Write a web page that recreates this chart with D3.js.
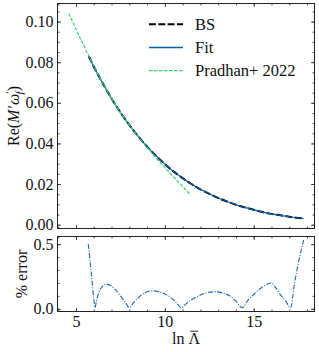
<!DOCTYPE html>
<html><head><meta charset="utf-8">
<script src="https://cdn.jsdelivr.net/npm/d3@7"></script>
<style>
body{margin:0;background:#fff}
svg{display:block}
text{font-family:"Liberation Serif","DejaVu Serif",serif;fill:#111}
</style>
</head><body>
<svg id="c" width="319" height="352"></svg>
<script>
// ---- data ----
const lnLambda = [5.72, 6.0, 6.5, 7.0, 7.5, 8.0, 8.5, 9.0, 9.5, 10.0, 10.5, 11.0, 11.5, 12.0, 12.5, 13.0, 13.5, 14.0, 14.5, 15.0, 15.5, 16.0, 16.5, 17.0, 17.5, 17.8];
const bsValues = [0.0829, 0.0779, 0.0697, 0.0621, 0.0553, 0.0491, 0.0435, 0.0384, 0.0339, 0.0298, 0.0261, 0.0229, 0.0200, 0.0174, 0.0152, 0.0131, 0.0114, 0.0098, 0.0085, 0.0073, 0.0062, 0.0053, 0.0046, 0.0039, 0.0033, 0.0030];
const fitValues = [0.0829, 0.0779, 0.0697, 0.0621, 0.0553, 0.0491, 0.0435, 0.0384, 0.0339, 0.0298, 0.0261, 0.0229, 0.0200, 0.0174, 0.0152, 0.0131, 0.0114, 0.0098, 0.0085, 0.0073, 0.0062, 0.0053, 0.0046, 0.0039, 0.0033, 0.0030];
const pradhanLn = [4.6, 5.0, 5.5, 6.0, 6.5, 7.0, 7.5, 8.0, 8.5, 9.0, 9.5, 10.0, 10.5, 11.0, 11.45];
const pradhanValues = [0.1040, 0.0963, 0.0871, 0.0782, 0.0699, 0.0622, 0.0553, 0.0490, 0.0433, 0.0380, 0.0329, 0.0281, 0.0234, 0.0188, 0.0146];
const errorLn = [5.69, 5.80, 5.90, 6.00, 6.07, 6.15, 6.30, 6.50, 6.72, 6.95, 7.20, 7.50, 7.80, 8.00, 8.20, 8.50, 8.80, 9.10, 9.35, 9.70, 10.00, 10.30, 10.60, 10.94, 11.20, 11.50, 11.90, 12.30, 12.70, 12.90, 13.30, 13.65, 14.00, 14.35, 14.70, 15.00, 15.40, 15.75, 15.99, 16.20, 16.50, 16.80, 17.07, 17.30, 17.55, 17.81];
const errorPct = [0.50, 0.36, 0.22, 0.08, 0.008, 0.06, 0.13, 0.175, 0.191, 0.18, 0.15, 0.10, 0.045, 0.008, 0.04, 0.085, 0.118, 0.135, 0.139, 0.13, 0.115, 0.09, 0.055, 0.008, 0.04, 0.07, 0.10, 0.122, 0.131, 0.131, 0.12, 0.10, 0.06, 0.008, 0.07, 0.11, 0.16, 0.19, 0.199, 0.17, 0.11, 0.06, 0.008, 0.20, 0.38, 0.532];
const xTickValues = [5, 10, 15];
const yTopTickValues = [0, 0.02, 0.04, 0.06, 0.08, 0.10];
const yBottomTickValues = [0, 0.5];
const legendLabels = ["BS", "Fit", "Pradhan+ 2022"];

// ---- layout ----
const svg = d3.select("#c");
const L = 57.5, R = 314.5;
const topP = {t: 3.5, b: 228.5};
const botP = {t: 236.5, b: 311.5};

const x = d3.scaleLinear().domain([3.96, 18.42]).range([L, R]);
const yT = d3.scaleLinear().domain([-0.0019, 0.1089]).range([topP.b, topP.t]);
const yB = d3.scaleLinear().domain([-0.021, 0.559]).range([botP.b, botP.t]);

const xMinor = d3.range(4, 19, 1);
const yTopMinor = d3.range(0, 0.1076, 0.005);
const yBotMinor = d3.range(0, 0.551, 0.1);

function drawAxes(yScale, panel, majorY, minorY, fmt) {
  const g = svg.append("g");
  const ax = (gen, tx, ty) => {
    const a = g.append("g").attr("transform", `translate(${tx},${ty})`).call(gen);
    a.select(".domain").remove();
    a.selectAll("line").attr("stroke", "#222").attr("stroke-width", 0.8);
    a.selectAll("text").attr("font-size", 16).attr("font-family", '"Liberation Serif",serif').attr("fill", "#111");
    return a;
  };
  ax(d3.axisBottom(x).tickValues(xMinor).tickSize(-2).tickFormat(""), 0, panel.b);
  ax(d3.axisBottom(x).tickValues(xTickValues).tickSize(-3.5).tickPadding(4)
      .tickFormat(panel.showX ? d3.format("d") : ""), 0, panel.b);
  ax(d3.axisTop(x).tickValues(xMinor).tickSize(-2).tickFormat(""), 0, panel.t);
  ax(d3.axisTop(x).tickValues(xTickValues).tickSize(-3.5).tickFormat(""), 0, panel.t);
  ax(d3.axisLeft(yScale).tickValues(minorY).tickSize(-2).tickFormat(""), L, 0);
  ax(d3.axisLeft(yScale).tickValues(majorY).tickSize(-3.5).tickPadding(4).tickFormat(fmt), L, 0);
  ax(d3.axisRight(yScale).tickValues(minorY).tickSize(-2).tickFormat(""), R, 0);
  ax(d3.axisRight(yScale).tickValues(majorY).tickSize(-3.5).tickFormat(""), R, 0);
  g.append("rect").attr("x", L).attr("y", panel.t).attr("width", R - L).attr("height", panel.b - panel.t)
    .attr("fill", "none").attr("stroke", "#222").attr("stroke-width", 1);
}

const defs = svg.append("defs");
defs.append("clipPath").attr("id", "clipT").append("rect")
  .attr("x", L).attr("y", topP.t).attr("width", R - L).attr("height", topP.b - topP.t);
defs.append("clipPath").attr("id", "clipB").append("rect")
  .attr("x", L).attr("y", botP.t).attr("width", R - L).attr("height", botP.b - botP.t);

const BLUE = "#0C5DA5", GREEN = "#3dd072";

// ---- top panel curves ----
const lineT = d3.line().x(d => x(d[0])).y(d => yT(d[1])).curve(d3.curveMonotoneX);
const gT = svg.append("g").attr("clip-path", "url(#clipT)");
gT.append("path").attr("d", lineT(d3.zip(lnLambda, bsValues)))
  .attr("fill", "none").attr("stroke", "#000").attr("stroke-width", 2).attr("stroke-dasharray", "7,2.5");
gT.append("path").attr("d", lineT(d3.zip(lnLambda, fitValues)))
  .attr("fill", "none").attr("stroke", BLUE).attr("stroke-width", 1.2);
gT.append("path").attr("d", lineT(d3.zip(pradhanLn, pradhanValues)))
  .attr("fill", "none").attr("stroke", GREEN).attr("stroke-width", 1.2).attr("stroke-dasharray", "3.5,1.5");

// ---- bottom panel curve ----
const lineB = d3.line().x(d => x(d[0])).y(d => yB(d[1])).curve(d3.curveMonotoneX);
svg.append("g").attr("clip-path", "url(#clipB)").append("path")
  .attr("d", lineB(d3.zip(errorLn, errorPct)))
  .attr("fill", "none").attr("stroke", "#1b66b3").attr("stroke-width", 1.1)
  .attr("stroke-dasharray", "5,1.6,1,1.6");

drawAxes(yT, Object.assign({showX: false}, topP), yTopTickValues, yTopMinor, d3.format(".2f"));
drawAxes(yB, Object.assign({showX: true}, botP), yBottomTickValues, yBotMinor, d3.format(".1f"));

// ---- legend ----
const legendStyles = [
  {stroke: "#000", w: 2, dash: "7,2.3"},
  {stroke: BLUE, w: 1.3, dash: null},
  {stroke: GREEN, w: 1.2, dash: "3.6,1.4"}
];
const legY = [24.3, 47.5, 70.7];
legendLabels.forEach((lab, i) => {
  const s = legendStyles[i];
  const ln = svg.append("line").attr("x1", 149).attr("x2", 183).attr("y1", legY[i]).attr("y2", legY[i])
    .attr("stroke", s.stroke).attr("stroke-width", s.w);
  if (s.dash) ln.attr("stroke-dasharray", s.dash);
  svg.append("text").attr("x", 195).attr("y", legY[i] + 5.5).attr("font-size", 16.5).text(lab);
});

// ---- axis labels ----
const yl = svg.append("text").attr("transform", "translate(19,116) rotate(-90)")
  .attr("text-anchor", "middle").attr("font-size", 16);
yl.append("tspan").text("Re(");
yl.append("tspan").attr("font-style", "italic").text("M");
yl.append("tspan").attr("dx", 1).text("\u2032");
yl.append("tspan").attr("font-style", "italic").text("\u03C9");
yl.append("tspan").attr("font-size", 11).attr("dy", -6).text("\u2032");
yl.append("tspan").attr("font-size", 11).attr("font-style", "italic").attr("dx", -3).attr("dy", 10).text("f");
yl.append("tspan").attr("dy", -4).text(")");

svg.append("text").attr("transform", "translate(27,274) rotate(-90)")
  .attr("text-anchor", "middle").attr("font-size", 16).text("% error");

const xl = svg.append("text").attr("x", 186).attr("y", 344).attr("text-anchor", "middle").attr("font-size", 16).text("ln \u039B");
const c0 = xl.node().getStartPositionOfChar(3), c1 = xl.node().getEndPositionOfChar(3);
const mid = (c0.x + c1.x) / 2;
svg.append("line").attr("x1", mid - 4).attr("x2", mid + 4).attr("y1", 331.2).attr("y2", 331.2)
  .attr("stroke", "#111").attr("stroke-width", 0.9);
</script>
</body></html>
